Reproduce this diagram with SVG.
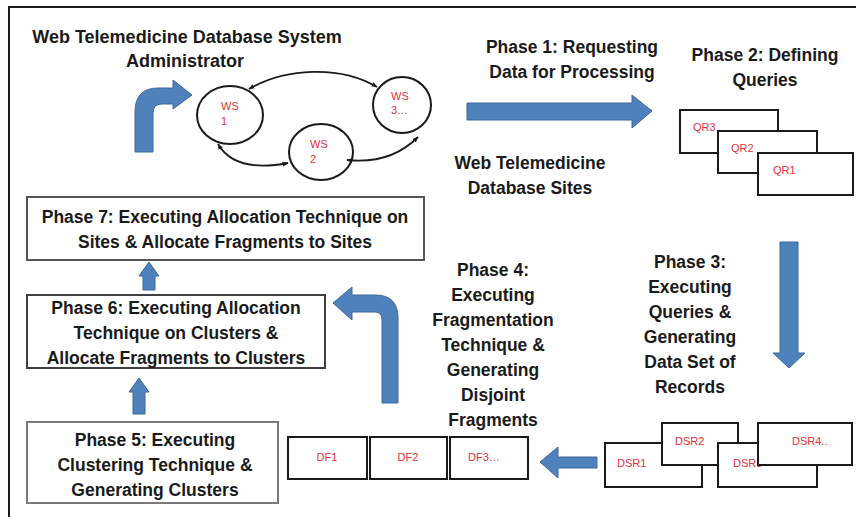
<svg xmlns="http://www.w3.org/2000/svg" width="856" height="517" viewBox="0 0 856 517">
<defs>
<style>
.t{font-family:"Liberation Sans",Arial,sans-serif;font-weight:bold;font-size:17.5px;fill:#1a1a1a;text-anchor:middle}
.r{font-family:"Liberation Sans",Arial,sans-serif;font-size:11px;fill:#e0303a;}
.box{fill:#fff;stroke:#1a1a1a;stroke-width:2}
.pbox{fill:#fff;stroke:#404040;stroke-width:2}
.blue{fill:#4f81bd;stroke:#3d6898;stroke-width:1}
.ws{fill:#fff;stroke:#1a1a1a;stroke-width:2}
.link{fill:none;stroke:#1a1a1a;stroke-width:1.8;marker-start:url(#ah);marker-end:url(#ah)}
</style>
<marker id="ah" viewBox="0 0 10 10" refX="9" refY="5" markerWidth="6" markerHeight="6" orient="auto-start-reverse" markerUnits="userSpaceOnUse"><path d="M0,1 L10,5 L0,9 Z" fill="#1a1a1a"/></marker>
</defs>
<rect width="856" height="517" fill="#fff"/>
<path d="M9,517 L9,7 L856,7" fill="none" stroke="#1a1a1a" stroke-width="2"/>

<g id="admin">
<text class="t" x="187" y="43" style="font-size:18px">Web Telemedicine Database System</text>
<text class="t" x="185" y="67" style="font-size:18px">Administrator</text>
</g>

<g id="sites">
<g id="ws1"><ellipse class="ws" cx="230" cy="115" rx="33" ry="29"/><text class="r" x="221" y="110">WS</text><text class="r" x="221" y="125">1</text></g>
<g id="ws2"><ellipse class="ws" cx="321" cy="152" rx="32" ry="28"/><text class="r" x="310" y="148">WS</text><text class="r" x="310" y="163">2</text></g>
<g id="ws3"><ellipse class="ws" cx="402" cy="105" rx="29" ry="28"/><text class="r" x="391" y="100">WS</text><text class="r" x="391" y="114">3…</text></g>
<text class="t" x="530" y="169">Web Telemedicine</text>
<text class="t" x="530" y="194">Database Sites</text>
</g>

<g id="connectors">
<path class="link" d="M249,89 C285,68 340,65 377,87"/>
<path class="link" d="M218,144 C232,168 262,168 288,163"/>
<path class="link" d="M347,160 C375,163 400,155 418,137"/>
<path class="blue" d="M135,152 L135,112 Q135,88 158,88 L173,88 L173,80 L192,95 L173,109 L173,104 L162,104 Q153,104 153,113 L153,152 Z"/>
<path class="blue" d="M467,103 L632,103 L632,95 L652,111 L632,128 L632,120 L467,120 Z"/>
<path class="blue" d="M780,242 L798,242 L798,353 L805,353 L789,368 L773,353 L780,353 Z"/>
<path class="blue" d="M597,457 L558,457 L558,447 L540,462 L558,478 L558,468 L597,468 Z"/>
<path class="blue" d="M398,403 L398,318 Q398,295 375,295 L352,295 L352,287 L333,303 L352,320 L352,312 L375,312 Q382,312 382,320 L382,403 Z"/>
<path class="blue" d="M143,290 L143,276 L139,276 L149,262 L159,276 L155,276 L155,290 Z"/>
<path class="blue" d="M133,414 L133,392 L129,392 L139,378 L149,392 L145,392 L145,414 Z"/>
</g>

<g id="phase1">
<text class="t" x="572" y="53">Phase 1: Requesting</text>
<text class="t" x="572" y="78">Data for Processing</text>
</g>

<g id="phase2">
<text class="t" x="765" y="61">Phase 2: Defining</text>
<text class="t" x="765" y="86">Queries</text>
<g id="qr3"><rect class="box" x="680" y="110" width="98" height="43"/><text class="r" x="693" y="131">QR3</text></g>
<g id="qr2"><rect class="box" x="718" y="131" width="99" height="42"/><text class="r" x="731" y="152">QR2</text></g>
<g id="qr1"><rect class="box" x="758" y="153" width="95" height="42"/><text class="r" x="773" y="174">QR1</text></g>
</g>

<g id="phase3">
<text class="t" x="690" y="268">Phase 3:</text>
<text class="t" x="690" y="293">Executing</text>
<text class="t" x="690" y="318">Queries &amp;</text>
<text class="t" x="690" y="343">Generating</text>
<text class="t" x="690" y="368">Data Set of</text>
<text class="t" x="690" y="393">Records</text>
<g id="dsr1"><rect class="box" x="605" y="443" width="97" height="44"/><text class="r" x="617" y="467">DSR1</text></g>
<g id="dsr2"><rect class="box" x="662" y="423" width="76" height="42"/><text class="r" x="675" y="445">DSR2</text></g>
<g id="dsr3"><rect class="box" x="718" y="443" width="99" height="44"/><text class="r" x="733" y="467">DSR3</text></g>
<g id="dsr4"><rect class="box" x="758" y="423" width="94" height="42"/><text class="r" x="792" y="445">DSR4..</text></g>
</g>

<g id="phase4">
<text class="t" x="493" y="276">Phase 4:</text>
<text class="t" x="493" y="301">Executing</text>
<text class="t" x="493" y="326">Fragmentation</text>
<text class="t" x="493" y="351">Technique &amp;</text>
<text class="t" x="493" y="376">Generating</text>
<text class="t" x="493" y="401">Disjoint</text>
<text class="t" x="493" y="426">Fragments</text>
<g id="df1"><rect class="box" x="288" y="437" width="79" height="42"/><text class="r" x="327" y="461" text-anchor="middle">DF1</text></g>
<g id="df2"><rect class="box" x="370" y="437" width="77" height="42"/><text class="r" x="408" y="461" text-anchor="middle">DF2</text></g>
<g id="df3"><rect class="box" x="450" y="437" width="78" height="42"/><text class="r" x="484" y="461" text-anchor="middle">DF3…</text></g>
</g>

<g id="phase5">
<rect class="pbox" x="27" y="422" width="251" height="81" style="stroke:#7a7a7a"/>
<text class="t" x="155" y="446">Phase 5: Executing</text>
<text class="t" x="155" y="471">Clustering Technique &amp;</text>
<text class="t" x="155" y="496">Generating Clusters</text>
</g>

<g id="phase6">
<rect class="pbox" x="27" y="295" width="298" height="73"/>
<text class="t" x="176" y="314">Phase 6: Executing Allocation</text>
<text class="t" x="176" y="339">Technique on Clusters &amp;</text>
<text class="t" x="176" y="364">Allocate Fragments to Clusters</text>
</g>

<g id="phase7">
<rect class="pbox" x="27" y="197" width="397" height="63" style="stroke:#555"/>
<text class="t" x="225" y="223">Phase 7: Executing Allocation Technique on</text>
<text class="t" x="225" y="248">Sites &amp; Allocate Fragments to Sites</text>
</g>
</svg>
